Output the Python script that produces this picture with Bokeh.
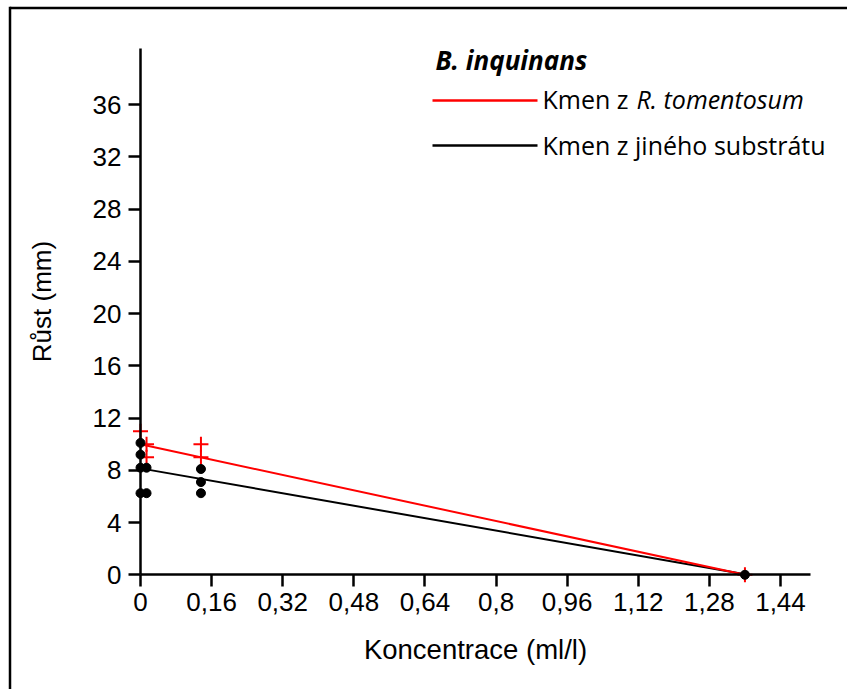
import math
from bokeh.plotting import figure
from bokeh.models import Range1d, FixedTicker, Label, Arrow
from bokeh.embed import file_html
from bokeh.resources import INLINE

# ---- data ----
conc_red = [0, 0.0136, 0.0136, 0.136, 0.136, 1.36]
growth_red = [11.0, 10.0, 9.0, 10.0, 9.0, 0.0]
conc_black = [0, 0, 0, 0, 0.0136, 0.0136, 0.136, 0.136, 0.136, 1.36]
growth_black = [10.1, 9.2, 8.2, 6.25, 8.2, 6.25, 8.1, 7.1, 6.25, 0.0]
fit_x = [0, 1.36]
fit_red = [10.0, 0.0]
fit_black = [8.15, 0.05]
x_ticks = [0, 0.16, 0.32, 0.48, 0.64, 0.8, 0.96, 1.12, 1.28, 1.44]
x_tick_labels = ["0", "0,16", "0,32", "0,48", "0,64", "0,8", "0,96", "1,12", "1,28", "1,44"]
y_ticks = [0, 4, 8, 12, 16, 20, 24, 28, 32, 36]
title_text = "B. inquinans"
legend_red_a = "Kmen z "
legend_red_b = "R. tomentosum"
legend_black = "Kmen z jiného substrátu"
x_label = "Koncentrace (ml/l)"
y_label = "Růst (mm)"

# pixel geometry of the drawing area (frame covers the whole canvas)
W, H = 847, 689
X0_PX, X_SCALE = 140.0, 444.44   # x = 0 at 140 px, px per unit
Y0_PX, Y_SCALE = 574.3, 13.06    # y = 0 at 574.3 px, px per unit

p = figure(width=W, height=H, output_backend="svg", toolbar_location=None,
           x_range=Range1d(-X0_PX / X_SCALE, (W - X0_PX) / X_SCALE),
           y_range=Range1d(-(H - Y0_PX) / Y_SCALE, Y0_PX / Y_SCALE),
           min_border_left=0, min_border_right=0, min_border_top=0, min_border_bottom=0)
p.outline_line_color = None
p.xgrid.visible = False
p.ygrid.visible = False
p.background_fill_color = "white"
p.border_fill_color = "white"

AX_FONT = "Liberation Sans"
for ax in (p.xaxis[0], p.yaxis[0]):
    ax.fixed_location = 0
    ax.axis_line_width = 2.5
    ax.axis_line_color = "black"
    ax.major_tick_line_width = 2.5
    ax.major_tick_line_color = "black"
    ax.major_tick_in = 0
    ax.major_tick_out = 12
    ax.minor_tick_line_color = None
    ax.major_label_text_font = AX_FONT
    ax.major_label_text_font_size = "26px"
    ax.major_label_text_color = "black"
    ax.axis_label_text_font = AX_FONT
    ax.axis_label_text_font_style = "normal"
    ax.axis_label_text_color = "black"

p.xaxis[0].ticker = FixedTicker(ticks=x_ticks)
p.xaxis[0].major_label_overrides = {t: l for t, l in zip(x_ticks, x_tick_labels)}
p.xaxis[0].bounds = (0, 1.507)
p.xaxis[0].axis_label = x_label
p.xaxis[0].axis_label_text_font_size = "27.5px"
p.xaxis[0].major_label_standoff = 6
p.xaxis[0].axis_label_standoff = 20

p.yaxis[0].ticker = FixedTicker(ticks=y_ticks)
p.yaxis[0].bounds = (0, 40.3)
p.yaxis[0].major_label_standoff = 7

def dx(px):
    return (px - X0_PX) / X_SCALE

def dy(py):
    return (Y0_PX - py) / Y_SCALE

# y axis title
p.add_layout(Label(x=dx(41), y=dy(301), text=y_label, angle=math.pi / 2,
                   text_font=AX_FONT, text_font_size="26px", text_color="black",
                   text_align="center", text_baseline="middle"))

# regression lines
p.line(fit_x, fit_black, line_color="black", line_width=2)
p.line(fit_x, fit_red, line_color="#ff0000", line_width=2)
# points
p.scatter(conc_red, growth_red, marker="cross", size=15, line_color="#ff0000", line_width=2)
p.scatter(conc_black, growth_black, marker="circle", size=9, fill_color="black", line_color="black")

# legend (drawn manually)
LEG_FONT = "Open Sans"
p.add_layout(Label(x=dx(435), y=dy(59), text=title_text, text_font=LEG_FONT,
                   text_font_size="26px", text_font_style="bold italic",
                   text_color="black", text_baseline="middle"))
p.add_layout(Arrow(end=None, x_start=dx(432), y_start=dy(100), x_end=dx(537), y_end=dy(100),
                   line_color="#ff0000", line_width=2.5))
p.add_layout(Arrow(end=None, x_start=dx(432), y_start=dy(145), x_end=dx(537), y_end=dy(145),
                   line_color="black", line_width=2.5))
p.add_layout(Label(x=dx(542), y=dy(98), text=legend_red_a, text_font=LEG_FONT,
                   text_font_size="25px", text_color="black", text_baseline="middle"))
p.add_layout(Label(x=dx(636), y=dy(98), text=legend_red_b, text_font=LEG_FONT,
                   text_font_size="25px", text_font_style="italic",
                   text_color="black", text_baseline="middle"))
p.add_layout(Label(x=dx(542), y=dy(144), text=legend_black, text_font=LEG_FONT,
                   text_font_size="25px", text_color="black", text_baseline="middle"))

# outer frame border: only its top and left edges lie inside the picture
p.add_layout(Arrow(end=None, x_start=dx(9.5), y_start=dy(7.5), x_end=dx(900), y_end=dy(7.5),
                   line_color="black", line_width=2.5))
p.add_layout(Arrow(end=None, x_start=dx(9.5), y_start=dy(6.3), x_end=dx(9.5), y_end=dy(800),
                   line_color="black", line_width=2.5))

open("out.html", "w").write(file_html(p, INLINE))
